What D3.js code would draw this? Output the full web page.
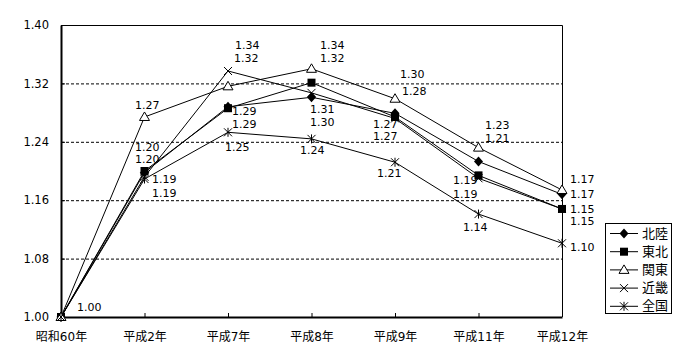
<!DOCTYPE html>
<html><head><meta charset="utf-8">
<script src="https://cdn.jsdelivr.net/npm/d3@7"></script>
<style>
body{margin:0;background:#fff;}
svg text{font-family:"DejaVu Sans","Noto Sans CJK JP",sans-serif;fill:#000;}
</style></head>
<body><svg id="c" width="700" height="360"></svg>
<script>
// ---- data ----
const categories = ["昭和60年","平成2年","平成7年","平成8年","平成9年","平成11年","平成12年"];
const seriesNames = ["北陸","東北","関東","近畿","全国"];
const hokuriku = [1.00, 1.198, 1.288, 1.301, 1.279, 1.213, 1.168];
const tohoku   = [1.00, 1.200, 1.286, 1.321, 1.274, 1.194, 1.148];
const kanto    = [1.00, 1.274, 1.316, 1.340, 1.299, 1.232, 1.174];
const kinki    = [1.00, 1.192, 1.337, 1.307, 1.272, 1.190, 1.148];
const zenkoku  = [1.00, 1.189, 1.253, 1.244, 1.212, 1.141, 1.101];
const yTicks = [1.00, 1.08, 1.16, 1.24, 1.32, 1.40];

// ---- layout / style (not data) ----
const seriesValues = [hokuriku, tohoku, kanto, kinki, zenkoku];
const markers = ["diamond","square","triangle","x","asterisk"];
// label offsets [dx,dy] relative to point (null = no label)
const labelOffsets = [
  [[16,-10],[-9.5,-12.5],[4,5],[-1.5,25],[7,-22],[6.5,-23.5],[8,0]],
  [null,[-9.5,-23.5],[4,16.5],[8.5,-24.5],[-22,8],[-25.5,5.6],[8,1]],
  [null,[-9.5,-11],[6,-28],[8.5,-23.5],[5,-24],[6.5,-22.6],[8,-10]],
  [null,[7.5,3],[7,-25],[-1.5,17],[-22,18.5],[-25.5,15.7],[8,13]],
  [null,[7.5,14],[-3,14.7],[-11.5,12],[-18,11],[-15.5,13],[8,4.7]]
];

const svg = d3.select("#c");
const m = {left:61, right:562, top:25, bottom:317};
const x = d3.scalePoint().domain(categories).range([m.left, m.right]).padding(0);
const y = d3.scaleLinear().domain([1.00, 1.40]).range([m.bottom, m.top]);
const fmt = d3.format(".2f");

// gridlines
svg.append("g").selectAll("line").data(yTicks.filter(t => t > 1.00 && t < 1.40)).join("line")
  .attr("x1", m.left).attr("x2", m.right)
  .attr("y1", d => y(d) + 0.5).attr("y2", d => y(d) + 0.5)
  .attr("stroke", "#000").attr("stroke-width", 1).attr("stroke-dasharray", "3,2");

// plot border (top, right)
svg.append("path")
  .attr("d", `M${m.left},${m.top+0.5}H${m.right+0.5}V${m.bottom}`)
  .attr("fill","none").attr("stroke","#000").attr("stroke-width",1);

// y axis
const yAxis = d3.axisLeft(y).tickValues(yTicks).tickFormat(fmt).tickSize(0).tickPadding(12);
const gy = svg.append("g").attr("transform", `translate(${m.left},0)`).call(yAxis);
gy.select(".domain").attr("stroke-width", 2);
gy.selectAll("text").attr("font-size", 11.5);
// y inner ticks
svg.append("g").selectAll("line").data(yTicks).join("line")
  .attr("x1", m.left).attr("x2", m.left + 4)
  .attr("y1", d => y(d) + 0.5).attr("y2", d => y(d) + 0.5)
  .attr("stroke", "#000");

// x axis
const xAxis = d3.axisBottom(x).tickSizeInner(-4).tickSizeOuter(0).tickPadding(15);
const gx = svg.append("g").attr("transform", `translate(0,${m.bottom})`).call(xAxis);
gx.select(".domain").attr("stroke-width", 2);
gx.selectAll("text").attr("font-size", 12).attr("font-family", "'Noto Sans CJK JP',sans-serif");

// lines
const line = d3.line().x((d,i) => x(categories[i])).y(d => y(d));
svg.append("g").selectAll("path").data(seriesValues).join("path")
  .attr("d", d => line(d)).attr("fill","none").attr("stroke","#000").attr("stroke-width",1);

function drawMarker(g, type, cx, cy) {
  if (type === "diamond") {
    g.append("path").attr("d", `M${cx},${cy-5}L${cx+4.5},${cy}L${cx},${cy+5}L${cx-4.5},${cy}Z`).attr("fill","#000");
  } else if (type === "square") {
    g.append("rect").attr("x", cx-4).attr("y", cy-4).attr("width", 8).attr("height", 8).attr("fill","#000");
  } else if (type === "triangle") {
    g.append("path").attr("d", `M${cx},${cy-5}L${cx+5},${cy+3.5}L${cx-5},${cy+3.5}Z`).attr("fill","#fff").attr("stroke","#000");
  } else if (type === "x") {
    g.append("path").attr("d", `M${cx-4},${cy-4}L${cx+4},${cy+4}M${cx+4},${cy-4}L${cx-4},${cy+4}`).attr("stroke","#000");
  } else if (type === "asterisk") {
    g.append("path").attr("d", `M${cx-4},${cy-4}L${cx+4},${cy+4}M${cx+4},${cy-4}L${cx-4},${cy+4}M${cx},${cy-4.5}V${cy+4.5}`).attr("stroke","#000");
  }
}

// markers
const mg = svg.append("g");
seriesValues.forEach((vals, s) => {
  vals.forEach((v, i) => drawMarker(mg, markers[s], x(categories[i]), y(v)));
});

// data labels
const lg = svg.append("g");
seriesValues.forEach((vals, s) => {
  vals.forEach((v, i) => {
    const o = labelOffsets[s][i];
    if (!o) return;
    lg.append("text").attr("x", x(categories[i]) + o[0]).attr("y", y(v) + o[1])
      .attr("dominant-baseline","central").attr("font-size", 11).text(fmt(v));
  });
});

// legend
const leg = svg.append("g");
leg.append("rect").attr("x", 605.5).attr("y", 223.5).attr("width", 66).attr("height", 90)
  .attr("fill","#fff").attr("stroke","#000");
seriesNames.forEach((n, i) => {
  const ly = 233 + i * 18.2;
  leg.append("line").attr("x1", 610).attr("x2", 638).attr("y1", ly+0.5).attr("y2", ly+0.5).attr("stroke","#000");
  drawMarker(leg, markers[i], 624, ly + 0.5);
  leg.append("text").attr("x", 642).attr("y", ly).attr("dominant-baseline","central")
    .attr("font-size", 13).attr("font-family","'Noto Sans CJK JP',sans-serif").text(n);
});
</script></body></html>
